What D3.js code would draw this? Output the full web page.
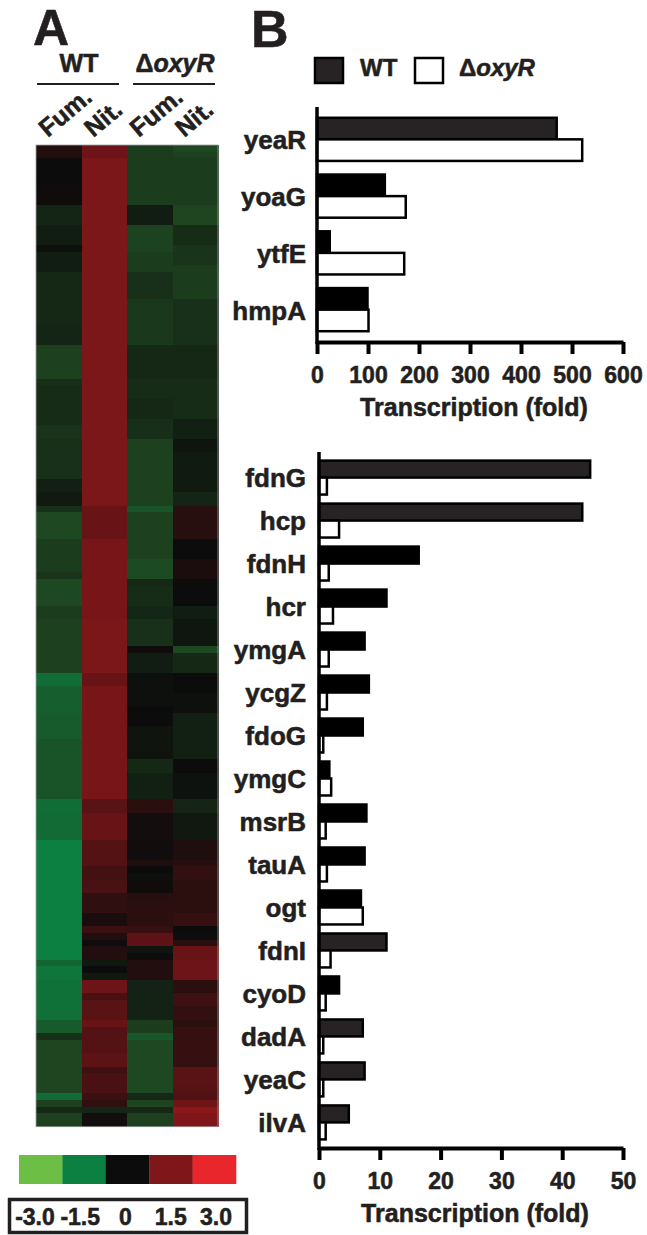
<!DOCTYPE html>
<html>
<head>
<meta charset="utf-8">
<script src="https://cdn.jsdelivr.net/npm/d3@7"></script>
<style>
  body { margin: 0; background: #fff; }
  svg text { font-family: "Liberation Sans", Arial, sans-serif; font-weight: bold; fill: #231f20;
             stroke: #231f20; stroke-width: 0.55px; paint-order: stroke; }
</style>
</head>
<body>
<svg id="fig" width="647" height="1235"></svg>
<script>
// ---------- Panel A: expression heatmap (log2 ratio, one row per gene) ----------
const conditionLabels = ["Fum.", "Nit.", "Fum.", "Nit."];
const strainLabels = ["WT", "oxyR"];

const wtFum = [
  0.3,0.3,0,0,0,0,0.05,0.05,0.05,-0.3,
  -0.3,-0.3,-0.2,-0.2,-0.2,-0.05,-0.2,-0.2,-0.2,-0.35,
  -0.35,-0.35,-0.35,-0.35,-0.35,-0.35,-0.35,-0.3,-0.3,-0.3,
  -0.65,-0.65,-0.65,-0.65,-0.65,-0.45,-0.4,-0.4,-0.4,-0.4,
  -0.4,-0.4,-0.5,-0.5,-0.45,-0.45,-0.45,-0.45,-0.45,-0.45,
  -0.25,-0.25,-0.18,-0.18,-0.45,-0.75,-0.75,-0.75,-0.75,-0.6,
  -0.6,-0.6,-0.6,-0.6,-0.5,-0.75,-0.75,-0.75,-0.75,-0.6,
  -0.6,-0.65,-0.65,-0.65,-0.65,-0.65,-0.65,-0.65,-0.65,-1.25,
  -1.25,-1.05,-1.05,-1.05,-1.05,-1.0,-1.0,-1.0,-1.0,-0.9,
  -0.9,-0.9,-0.9,-0.9,-0.9,-0.9,-0.9,-0.9,-1.25,-1.25,
  -1.2,-1.2,-1.2,-1.2,-1.5,-1.5,-1.5,-1.5,-1.5,-1.5,
  -1.5,-1.5,-1.5,-1.5,-1.5,-1.5,-1.5,-1.5,-1.5,-1.5,
  -1.5,-1.5,-1.15,-1.35,-1.35,-1.3,-1.3,-1.3,-1.3,-1.3,
  -1.3,-1.0,-1.0,-0.45,-0.7,-0.7,-0.7,-0.7,-0.7,-0.7,
  -0.7,-0.7,-1.2,-0.65,-0.35,-0.65,-0.65
];
const wtNit = [
  1.25,1.25,1.45,1.45,1.45,1.45,1.45,1.45,1.45,1.45,
  1.45,1.45,1.45,1.45,1.45,1.45,1.45,1.45,1.45,1.45,
  1.45,1.45,1.45,1.45,1.45,1.45,1.45,1.45,1.45,1.45,
  1.45,1.45,1.45,1.45,1.45,1.45,1.45,1.45,1.45,1.45,
  1.45,1.45,1.45,1.45,1.45,1.45,1.45,1.45,1.45,1.45,
  1.45,1.45,1.45,1.45,1.2,1.2,1.2,1.2,1.2,1.4,
  1.4,1.4,1.4,1.4,1.4,1.4,1.4,1.4,1.4,1.4,
  1.4,1.45,1.45,1.45,1.45,1.45,1.45,1.45,1.45,1.2,
  1.2,1.4,1.4,1.4,1.4,1.4,1.4,1.4,1.4,1.4,
  1.4,1.4,1.4,1.4,1.4,1.4,1.4,1.4,1.0,1.0,
  1.2,1.2,1.2,1.2,0.95,0.95,0.95,0.95,0.7,0.7,
  0.8,0.8,0.45,0.45,0.45,0.2,0.2,0.6,0.3,0.03,
  0.3,0.3,-0.15,0,-0.15,1.25,1.25,0.8,1.0,1.0,
  1.0,1.2,0.95,0.95,0.95,0.95,1.05,1.05,0.65,0.8,
  0.8,0.8,0.6,0.45,-0.33,0.1,0.1
];
const oxyFum = [
  -0.6,-0.6,-0.6,-0.6,-0.6,-0.6,-0.6,-0.6,-0.6,-0.2,
  -0.2,-0.2,-0.68,-0.68,-0.68,-0.68,-0.6,-0.6,-0.6,-0.45,
  -0.45,-0.45,-0.45,-0.55,-0.55,-0.55,-0.55,-0.55,-0.55,-0.55,
  -0.35,-0.35,-0.35,-0.35,-0.35,-0.4,-0.4,-0.4,-0.35,-0.35,
  -0.35,-0.42,-0.42,-0.42,-0.65,-0.65,-0.65,-0.65,-0.65,-0.65,
  -0.65,-0.65,-0.65,-0.65,-0.9,-0.65,-0.65,-0.65,-0.65,-0.65,
  -0.65,-0.65,-0.78,-0.78,-0.78,-0.35,-0.4,-0.4,-0.4,-0.33,
  -0.33,-0.45,-0.45,-0.45,-0.45,0.05,-0.2,-0.2,-0.2,-0.05,
  -0.05,-0.05,-0.05,-0.05,0,0,0,-0.1,-0.1,-0.1,
  -0.1,-0.1,-0.35,-0.35,-0.25,-0.25,-0.25,-0.25,0.4,0.4,
  0.1,0.1,0.1,0.1,0.07,0.07,0.07,0.25,0,-0.05,
  0.05,0.05,0.35,0.4,0.4,0.4,0.4,0.55,1.05,1.05,
  -0.1,0.03,0.3,0.3,0.3,-0.28,-0.28,-0.28,-0.28,-0.28,
  -0.28,-0.6,-0.6,-0.95,-0.75,-0.75,-0.75,-0.75,-0.75,-0.75,
  -0.75,-0.75,-0.35,-0.7,-0.35,-0.65,-0.65
];
const oxyNit = [
  -0.75,-0.65,-0.6,-0.6,-0.6,-0.6,-0.6,-0.6,-0.6,-0.7,
  -0.7,-0.7,-0.4,-0.4,-0.4,-0.5,-0.5,-0.5,-0.6,-0.6,
  -0.6,-0.6,-0.6,-0.45,-0.45,-0.45,-0.45,-0.45,-0.45,-0.45,
  -0.35,-0.35,-0.35,-0.35,-0.35,-0.4,-0.4,-0.4,-0.4,-0.4,
  -0.4,-0.25,-0.25,-0.25,-0.1,-0.1,-0.18,-0.18,-0.18,-0.18,
  -0.18,-0.18,-0.3,-0.3,0.35,0.35,0.35,0.35,0.35,0,
  0,0,0.2,0.2,0.2,0,0,0,0,-0.2,
  -0.2,-0.12,-0.12,-0.12,-0.12,-0.75,-0.35,-0.35,-0.35,0,
  0,0,-0.05,-0.05,-0.05,-0.25,-0.25,-0.25,-0.25,-0.25,
  -0.25,-0.25,0,0,-0.08,-0.08,-0.08,-0.08,-0.3,-0.3,
  -0.15,-0.15,-0.15,-0.15,0.25,0.25,0.25,0.35,0.5,0.5,
  0.4,0.4,0.4,0.4,0.4,0.55,0.55,0,0.02,0.35,
  1.2,1.2,1.25,1.25,1.25,0.4,0.4,0.65,0.65,0.5,
  0.5,0.4,0.55,0.55,0.55,0.55,0.55,0.55,1.0,1.0,
  1.0,0.95,0.9,1.3,1.7,1.5,1.5
];
const heatColumns = [wtFum, wtNit, oxyFum, oxyNit];

const legendValues = [-3, -1.5, 0, 1.5, 3];
const legendLabels = ["-3.0", "-1.5", "0", "1.5", "3.0"];

// ---------- Panel B: qRT-PCR fold changes ----------
const topGenes = ["yeaR", "yoaG", "ytfE", "hmpA"];
const topWT    = [470, 133, 25, 99];
const topOxyR  = [520, 174, 171, 101];
const topTicks = [0, 100, 200, 300, 400, 500, 600];

const bottomGenes = ["fdnG", "hcp", "fdnH", "hcr", "ymgA", "ycgZ", "fdoG", "ymgC",
                     "msrB", "tauA", "ogt", "fdnI", "cyoD", "dadA", "yeaC", "ilvA"];
const bottomWT   = [44.6, 43.3, 16.4, 11.1, 7.5, 8.2, 7.2, 1.7, 7.8, 7.5, 6.9, 11.1, 3.3, 7.2, 7.5, 4.9];
const bottomOxyR = [1.3, 3.3, 1.6, 2.3, 1.6, 1.3, 0.7, 2.0, 1.1, 1.3, 7.2, 1.9, 1.1, 0.7, 0.7, 1.1];
const bottomTicks = [0, 10, 20, 30, 40, 50];

// WT bars printed in the softer charcoal tone
const charcoalWT = new Set(["yeaR", "fdnG", "hcp", "fdnI", "dadA", "yeaC", "ilvA"]);

// ---------------------------------------------------------------
const svg = d3.select("#fig");
const INK = "#000";
const CHARCOAL = "#272324";

const heatColor = d3.scaleLinear()
  .domain([-3, -1.5, -0.7, 0, 1.5, 3])
  .range(["#6cbe45", "#0b8040", "#1e4420", "#0c0c0c", "#7f1619", "#e8262b"])
  .clamp(true);

// Panel letters
svg.append("text").attr("x", 33).attr("y", 45).attr("font-size", 50).text("A");
svg.append("text").attr("x", 251).attr("y", 47).attr("font-size", 52).text("B");

// ----- heatmap -----
const nRows = wtFum.length;
const hx = d3.scaleBand().domain(d3.range(4)).range([36, 218]);
const hy = d3.scaleBand().domain(d3.range(nRows)).range([145, 1126.7]);

const heat = svg.append("g").attr("shape-rendering", "crispEdges");
heatColumns.forEach((col, c) => {
  heat.selectAll(null).data(col).join("rect")
    .attr("x", hx(c)).attr("width", hx.bandwidth() + 0.5)
    .attr("y", (d, i) => hy(i)).attr("height", hy.bandwidth() + 0.5)
    .attr("fill", d => heatColor(d));
});
svg.append("rect")
  .attr("x", hx.range()[0]).attr("y", hy.range()[0])
  .attr("width", hx.range()[1] - hx.range()[0]).attr("height", hy.range()[1] - hy.range()[0])
  .attr("fill", "none").attr("stroke", "#a0a0a0").attr("stroke-width", 0.8);

// strain headers with underlines
const strainSpan = [[37, 119], [133, 215]];
strainLabels.forEach((s, k) => {
  const [a, b] = strainSpan[k];
  const t = svg.append("text").attr("x", (a + b) / 2 + 1).attr("y", 72)
    .attr("text-anchor", "middle").attr("font-size", 25);
  if (s === "WT") t.text("WT");
  else { t.append("tspan").text("Δ"); t.append("tspan").attr("font-style", "italic").text(s); }
  svg.append("line").attr("x1", a).attr("x2", b).attr("y1", 84).attr("y2", 84)
    .attr("stroke", "#231f20").attr("stroke-width", 2.2);
});

// condition labels, slanted
conditionLabels.forEach((lab, c) => {
  const cx = hx(c) + hx.bandwidth() / 2;
  svg.append("text")
    .attr("transform", `translate(${cx - 11},138) rotate(-40)`)
    .attr("font-size", 25).text(lab);
});

// colour key
const kx = d3.scaleBand().domain(legendValues).range([19, 236]);
svg.append("g").selectAll("rect").data(legendValues).join("rect")
  .attr("x", d => kx(d)).attr("width", kx.bandwidth() + 0.3)
  .attr("y", 1155).attr("height", 29)
  .attr("fill", d => heatColor(d));
svg.append("rect").attr("x", 9.5).attr("y", 1199.5).attr("width", 237).attr("height", 33)
  .attr("fill", "none").attr("stroke", "#231f20").attr("stroke-width", 3.5);
const kl = d3.scaleLinear().domain([-3, 3]).range([35, 216]);
svg.append("g").selectAll("text").data(legendValues).join("text")
  .attr("x", d => kl(d)).attr("y", 1225).attr("text-anchor", "middle")
  .attr("font-size", 23).text((d, i) => legendLabels[i]);

// ----- bar legend -----
svg.append("rect").attr("x", 315).attr("y", 58).attr("width", 28).attr("height", 25)
  .attr("fill", CHARCOAL).attr("stroke", INK).attr("stroke-width", 2.5);
svg.append("text").attr("x", 360).attr("y", 76).attr("font-size", 24).text("WT");
svg.append("rect").attr("x", 415).attr("y", 58).attr("width", 28).attr("height", 25)
  .attr("fill", "#fff").attr("stroke", INK).attr("stroke-width", 2.5);
const lg = svg.append("text").attr("x", 459).attr("y", 76).attr("font-size", 24);
lg.append("tspan").text("Δ");
lg.append("tspan").attr("font-style", "italic").text("oxyR");

// ----- horizontal grouped bar chart -----
function barPanel(opts) {
  const { genes, wt, oxy, ticks, xDomain, xRange, yTop, yAxis, pad } = opts;
  const x = d3.scaleLinear().domain(xDomain).range(xRange);
  const y = d3.scaleBand().domain(genes).range([yTop, yAxis])
    .paddingInner(pad.inner).paddingOuter(pad.outer);
  const sub = d3.scaleBand().domain(["WT", "oxyR"]).range([0, y.bandwidth()]);
  const g = svg.append("g");

  const rows = genes.map((gname, i) => ({ gene: gname, wt: wt[i], oxy: oxy[i] }));
  const grp = g.selectAll("g.gene").data(rows).join("g")
    .attr("transform", d => `translate(0,${y(d.gene)})`);
  grp.append("rect")
    .attr("x", x(0)).attr("y", sub("WT"))
    .attr("width", d => x(d.wt) - x(0)).attr("height", sub.bandwidth())
    .attr("fill", d => charcoalWT.has(d.gene) ? CHARCOAL : INK)
    .attr("stroke", INK).attr("stroke-width", 2.5);
  grp.append("rect")
    .attr("x", x(0)).attr("y", sub("oxyR"))
    .attr("width", d => x(d.oxy) - x(0)).attr("height", sub.bandwidth())
    .attr("fill", "#fff").attr("stroke", INK).attr("stroke-width", 2.5);

  // gene names
  g.selectAll("text.gene").data(genes).join("text")
    .attr("x", 306).attr("y", d => y(d) + y.bandwidth() / 2)
    .attr("dy", "0.38em").attr("text-anchor", "end").attr("font-size", 26).text(d => d);

  // value axis
  const ax = g.append("g").attr("transform", `translate(0,${yAxis})`)
    .call(d3.axisBottom(x).tickValues(ticks).tickFormat(d3.format("d"))
      .tickSize(12).tickSizeOuter(0).tickPadding(13));
  ax.select(".domain").attr("stroke", INK).attr("stroke-width", 4);
  ax.selectAll(".tick line").attr("stroke", INK).attr("stroke-width", 4);
  ax.selectAll(".tick text").attr("font-size", 23)
    .attr("font-family", "Liberation Sans, Arial, sans-serif").attr("font-weight", "bold")
    .attr("fill", "#231f20");

  // category axis line
  g.append("line").attr("x1", x(0)).attr("x2", x(0))
    .attr("y1", yTop).attr("y2", yAxis + 2)
    .attr("stroke", INK).attr("stroke-width", 3.5);

  g.append("text").attr("x", (xRange[0] + xRange[1]) / 2 + 4).attr("y", yAxis + 74)
    .attr("text-anchor", "middle").attr("font-size", 25).text("Transcription (fold)");
}

barPanel({
  genes: topGenes, wt: topWT, oxy: topOxyR, ticks: topTicks,
  xDomain: [0, 600], xRange: [317, 623], yTop: 107, yAxis: 342,
  pad: { inner: 0.24, outer: 0.19 }
});
barPanel({
  genes: bottomGenes, wt: bottomWT, oxy: bottomOxyR, ticks: bottomTicks,
  xDomain: [0, 50], xRange: [319, 623], yTop: 452, yAxis: 1148,
  pad: { inner: 0.21, outer: 0.2 }
});
</script>
</body>
</html>
